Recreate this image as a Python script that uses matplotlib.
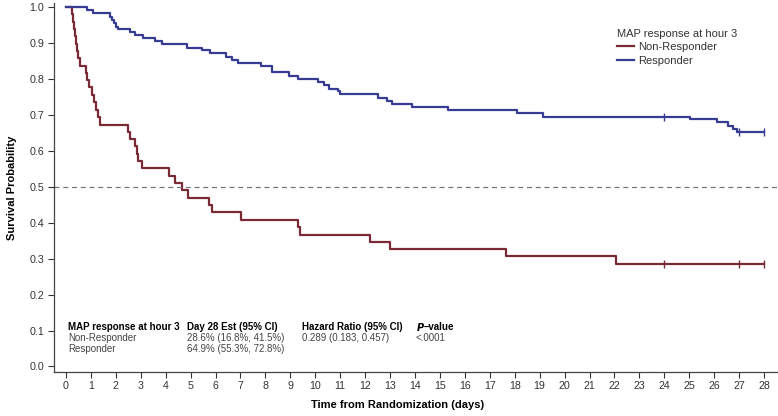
import matplotlib
matplotlib.use("Agg")
import matplotlib.pyplot as plt

plt.rcParams["font.family"] = ["Liberation Sans", "DejaVu Sans"]

# Kaplan-Meier steps (days, survival probability)
nonresp_t = [0, 0.23, 0.27, 0.31, 0.36, 0.40, 0.45, 0.50, 0.56, 0.79, 0.86, 0.93,
             1.03, 1.12, 1.19, 1.30, 1.36, 2.47, 2.57, 2.77, 2.86, 2.90, 3.04,
             4.14, 4.37, 4.64, 4.91, 5.74, 5.84, 7.03, 9.32, 9.39, 12.2, 13.0,
             17.65, 22.05, 28.0]
nonresp_s = [1.0, 0.980, 0.959, 0.939, 0.918, 0.898, 0.878, 0.857, 0.837, 0.816,
             0.796, 0.776, 0.755, 0.735, 0.714, 0.694, 0.673, 0.653, 0.633, 0.612,
             0.592, 0.571, 0.551, 0.531, 0.510, 0.490, 0.469, 0.449, 0.429, 0.408,
             0.388, 0.367, 0.347, 0.327, 0.306, 0.286, 0.286]
nonresp_cens_t = [24.0, 27.0, 28.0]
nonresp_cens_s = [0.286, 0.286, 0.286]

resp_t = [0, 0.83, 1.10, 1.77, 1.85, 1.93, 2.02, 2.10, 2.57, 2.77, 3.10, 3.57,
          3.84, 4.84, 5.44, 5.78, 6.42, 6.64, 6.91, 7.81, 8.25, 8.95, 9.32,
          10.12, 10.35, 10.56, 10.92, 10.99, 12.53, 12.86, 13.06, 13.9, 15.34,
          18.08, 19.15, 25.03, 26.1, 26.57, 26.77, 26.9, 28.0]
resp_s = [1.0, 0.992, 0.982, 0.973, 0.964, 0.954, 0.945, 0.938, 0.930, 0.922,
          0.913, 0.904, 0.896, 0.887, 0.879, 0.871, 0.862, 0.853, 0.845, 0.836,
          0.820, 0.808, 0.800, 0.791, 0.782, 0.773, 0.765, 0.757, 0.748, 0.739,
          0.730, 0.721, 0.712, 0.704, 0.695, 0.688, 0.679, 0.669, 0.660, 0.651,
          0.651]
resp_cens_t = [24.0, 27.0, 28.0]
resp_cens_s = [0.695, 0.651, 0.651]

xticks = list(range(0, 29))
yticks = [0.0, 0.1, 0.2, 0.3, 0.4, 0.5, 0.6, 0.7, 0.8, 0.9, 1.0]

table_header = ["MAP response at hour 3", "Day 28 Est (95% CI)", "Hazard Ratio (95% CI)"]
table_rows = [
    ["Non-Responder", "28.6% (16.8%, 41.5%)", "0.289 (0.183, 0.457)", "<.0001"],
    ["Responder", "64.9% (55.3%, 72.8%)", "", ""],
]

RED = "#7A2A35"
BLUE = "#363C94"

fig = plt.figure(figsize=(7.78, 4.16), dpi=100)
ax = fig.add_axes([0.0694, 0.1065, 0.9293, 0.8863])

ax.step(nonresp_t, nonresp_s, where="post", color=RED, lw=1.6, label="Non-Responder")
ax.step(resp_t, resp_s, where="post", color=BLUE, lw=1.6, label="Responder")
ax.plot(nonresp_cens_t, nonresp_cens_s, ls="none", marker="|", ms=6, mew=1.0, color=RED)
ax.plot(resp_cens_t, resp_cens_s, ls="none", marker="|", ms=6, mew=1.0, color=BLUE)

ax.axhline(0.5, color="#777777", lw=0.9, ls=(0, (4, 3)))

ax.set_xlim(-0.48, 28.52)
ax.set_ylim(-0.0145, 1.011)
ax.set_xticks(xticks)
ax.set_yticks(yticks)
ax.set_yticklabels([f"{v:.1f}" for v in yticks])
ax.tick_params(axis="both", direction="out", length=4.5, width=0.8,
               labelsize=7.7, colors="#333333", pad=2.5)
ax.spines[["top", "right"]].set_visible(False)
for s in ["left", "bottom"]:
    ax.spines[s].set_color("#444444")
    ax.spines[s].set_linewidth(0.9)

ax.set_xlabel("Time from Randomization (days)", fontsize=8, fontweight="bold")
ax.set_ylabel("Survival Probability", fontsize=8, fontweight="bold")
ax.xaxis.set_label_coords(0.475, -0.078)
ax.yaxis.set_label_coords(-0.051, 0.5)

leg = ax.legend(loc="upper left", bbox_to_anchor=(0.7935, 0.931),
                bbox_transform=fig.transFigure, frameon=False, fontsize=8,
                title="MAP response at hour 3", title_fontsize=8,
                handlelength=1.5, handletextpad=0.35, labelspacing=0.32,
                borderaxespad=0, borderpad=0, alignment="left")
leg.get_title().set_color("#333333")
for t in leg.get_texts():
    t.set_color("#333333")

# summary table at bottom of the plot
col_x = [0.09, 4.84, 9.45, 14.04]
row_y = [0.111, 0.080, 0.048]
for x, h in zip(col_x, table_header):
    ax.text(x, row_y[0], h, fontsize=7, fontweight="bold", va="center", ha="left")
ax.text(col_x[3], row_y[0], "$\\bfit{P}$", fontsize=7, va="center", ha="left")
ax.text(col_x[3] + 0.33, row_y[0], "\u2013value", fontsize=7, fontweight="bold",
        va="center", ha="left")
for r, row in enumerate(table_rows):
    for x, cell in zip(col_x, row):
        ax.text(x, row_y[r + 1], cell, fontsize=7, color="#444444",
                va="center", ha="left")

fig.savefig("out.png", dpi=100, facecolor="white")
